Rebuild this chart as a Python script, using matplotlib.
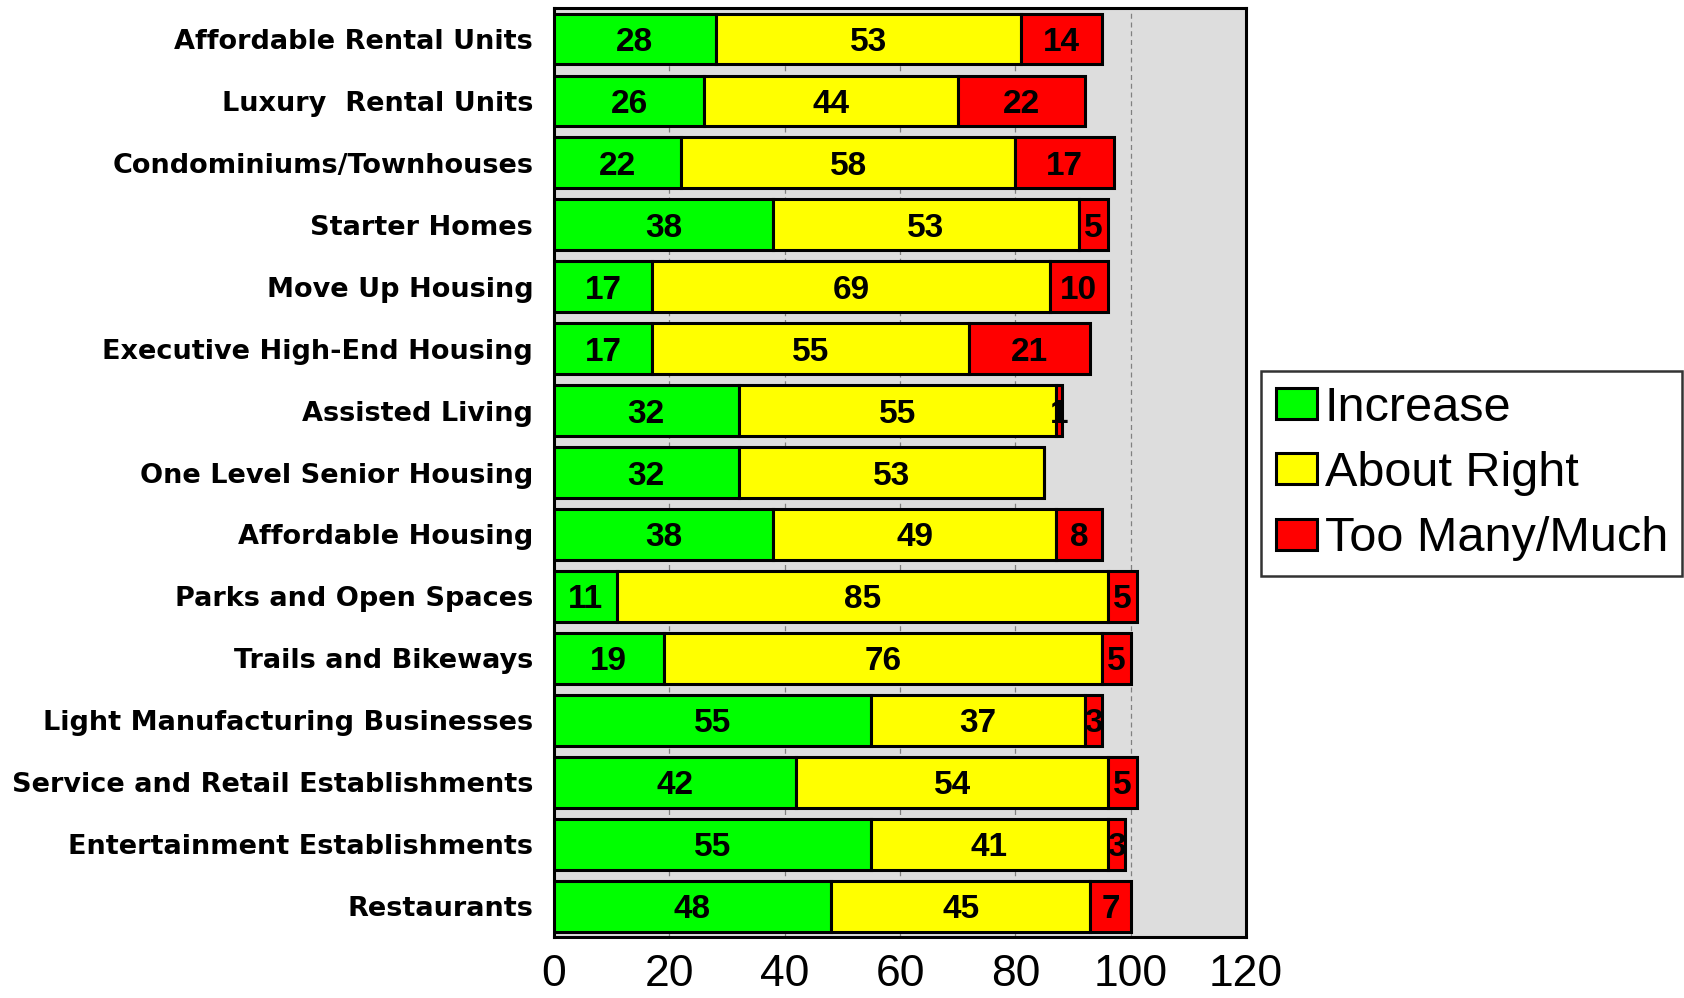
import matplotlib
matplotlib.use("Agg")
import matplotlib.pyplot as plt
import numpy as np

categories = [
    "Affordable Rental Units",
    "Luxury  Rental Units",
    "Condominiums/Townhouses",
    "Starter Homes",
    "Move Up Housing",
    "Executive High-End Housing",
    "Assisted Living",
    "One Level Senior Housing",
    "Affordable Housing",
    "Parks and Open Spaces",
    "Trails and Bikeways",
    "Light Manufacturing Businesses",
    "Service and Retail Establishments",
    "Entertainment Establishments",
    "Restaurants",
]
increase = [28, 26, 22, 38, 17, 17, 32, 32, 38, 11, 19, 55, 42, 55, 48]
about_right = [53, 44, 58, 53, 69, 55, 55, 53, 49, 85, 76, 37, 54, 41, 45]
too_many = [14, 22, 17, 5, 10, 21, 1, 0, 8, 5, 5, 3, 5, 3, 7]

series = [
    ("Increase", increase, "#00FF00"),
    ("About Right", about_right, "#FFFF00"),
    ("Too Many/Much", too_many, "#FF0000"),
]

NARROW = ["Liberation Sans Narrow", "Liberation Sans", "DejaVu Sans"]
WIDE = ["DejaVu Sans"]

fig = plt.figure(figsize=(16.84, 9.98), dpi=100)
ax = fig.add_axes([0.329, 0.061, 0.411, 0.931])
ax.set_facecolor("#DDDDDD")

y = np.arange(len(categories))
left = np.zeros(len(categories))
handles = []
for name, vals, color in series:
    vals = np.array(vals, dtype=float)
    bars = ax.barh(y, vals, left=left, height=0.82, color=color,
                   edgecolor="black", linewidth=2.2, zorder=3, label=name)
    handles.append(bars)
    # segment value, skipped where the share is zero
    for yi, l, v in zip(y, left, vals):
        if v > 0:
            ax.text(l + v / 2, yi, f"{v:g}", ha="center", va="center_baseline",
                    fontsize=24, fontweight="bold", family=NARROW, zorder=4)
    left += vals

ax.set_xlim(0, 120)
ax.set_ylim(len(categories) - 0.5, -0.5)
ax.set_xticks(np.arange(0, 121, 20))
ax.set_yticks(y)
ax.set_yticklabels(categories, fontsize=19.5, fontweight="bold", family=WIDE)
ax.tick_params(axis="y", length=0, pad=15)
ax.tick_params(axis="x", length=0, pad=12, labelsize=32)
for lbl in ax.get_xticklabels():
    lbl.set_family(NARROW)

ax.grid(axis="x", color="#808080", linestyle=(0, (4, 3)), linewidth=0.9, zorder=1)
for sp in ax.spines.values():
    sp.set_linewidth(2.2)
    sp.set_color("black")

leg = fig.legend(handles=handles, loc="center left", bbox_to_anchor=(0.749, 0.5255),
                 prop={"family": NARROW, "size": 35}, frameon=True, fancybox=False,
                 handlelength=0.85, handleheight=0.6, handletextpad=0.15,
                 labelspacing=0.42, borderpad=0.3, borderaxespad=0)
leg.get_frame().set_edgecolor("black")
leg.get_frame().set_linewidth(1.8)

fig.savefig("out.png", dpi=100)
